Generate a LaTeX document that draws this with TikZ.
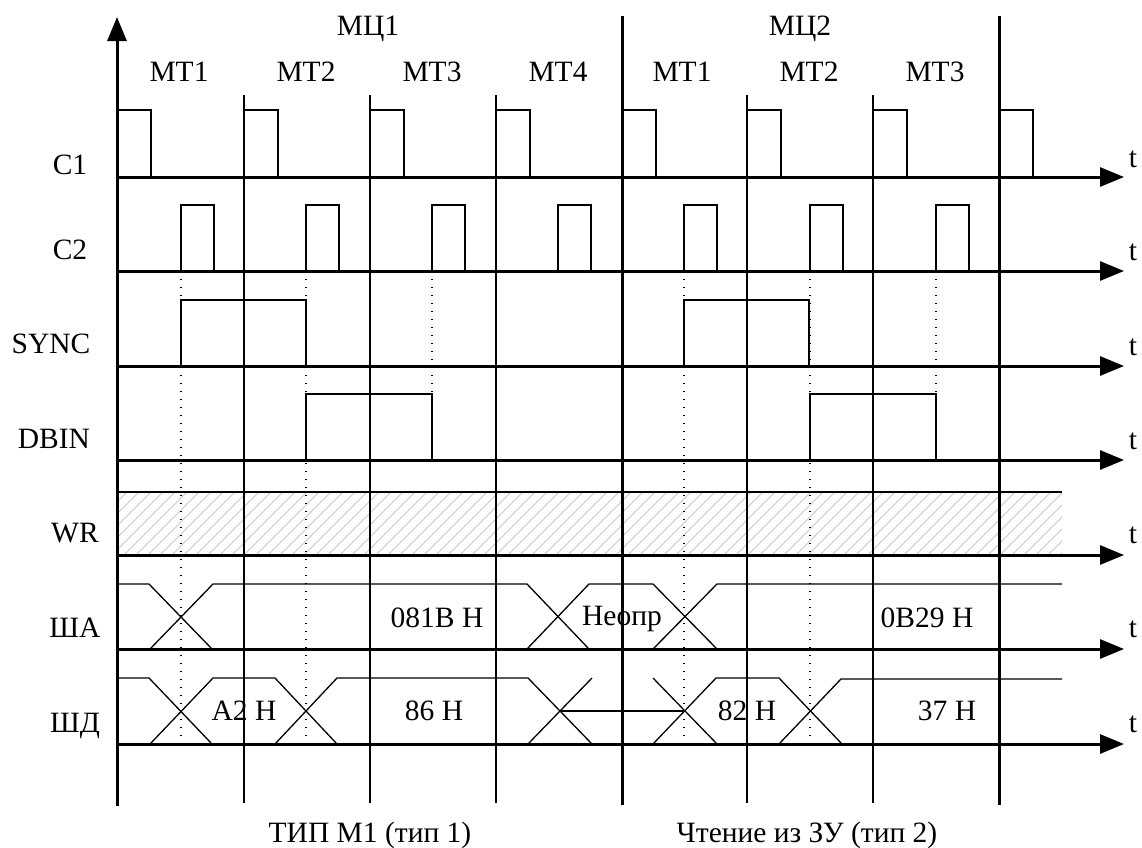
\documentclass[tikz,border=0pt]{standalone}
\usepackage{fontspec}
\setmainfont{Liberation Serif}
\usetikzlibrary{arrows.meta}
\begin{document}
\begin{tikzpicture}[x=1pt,y=-1pt,
  sig/.style={line width=1.3pt, line join=miter},
  axisline/.style={line width=3pt, -{Triangle[length=24pt,width=19pt]}},
  divthin/.style={line width=1.4pt},
  divthick/.style={line width=3pt},
  dotline/.style={line width=1.4pt, dash pattern=on 1.4pt off 6.6pt},
  hatchline/.style={line width=0.9pt, gray!45},
  lbl/.style={font=\fontsize{29.5}{32}\selectfont, inner sep=0pt, anchor=base}]
\useasboundingbox (0,0) rectangle (1142,847);

% WR hatch
\begin{scope}
  \clip (117,492) rectangle (1062,555);
  \foreach \x in {40,52,...,1070} \draw[hatchline] (\x,555) -- ++(63,-63);
\end{scope}
\draw[sig] (117,492) -- (1062,492);

% dividers
\foreach \x in {244,370,496,747,873} \draw[divthin] (\x,95) -- (\x,803);
\foreach \x in {622,999} \draw[divthick] (\x,16) -- (\x,805);

% dotted guides
\foreach \x in {181,306,684,810} \draw[dotline] (\x,271) -- (\x,744);
\foreach \x in {432,936} \draw[dotline] (\x,271) -- (\x,394);

% C1
\foreach \x in {117,244,370,496,622,747,873,999}
  \draw[sig] (\x,177) -- (\x,110) -- ++(34,0) -- ++(0,67);
% C2
\foreach \x in {181,306,432,558,684,810,936}
  \draw[sig] (\x,271) -- (\x,205) -- ++(33,0) -- ++(0,66);
% SYNC
\foreach \x in {181,684}
  \draw[sig] (\x,366) -- (\x,300) -- ++(125,0) -- ++(0,66);
% DBIN
\foreach \x in {306,810}
  \draw[sig] (\x,460) -- (\x,394) -- ++(126,0) -- ++(0,66);

% ША
\draw[sig] (117,584) -- (149,584) -- (212,649);
\draw[sig] (150,649) -- (213,584) -- (527,584) -- (589,649);
\draw[sig] (527,649) -- (589,584) -- (653,584) -- (717,649);
\draw[sig] (653,649) -- (717,584) -- (1062,584);

% ШД
\draw[sig] (117,678) -- (149,678) -- (212,744);
\draw[sig] (150,744) -- (213,678) -- (275,678) -- (337,744);
\draw[sig] (275,744) -- (337,678) -- (528,678) -- (592,744);
\draw[sig] (528,744) -- (592,678);
\draw[sig] (560,711) -- (685,711);
\draw[sig] (653,678) -- (717,744);
\draw[sig] (653,744) -- (716,678) -- (779,678) -- (842,744);
\draw[sig] (779,744) -- (841,679) -- (1062,679);

% axes
\foreach \y in {177,271,366,460,555,649,744}
  \draw[axisline] (116,\y) -- (1124,\y);
\draw[axisline] (117,806) -- (117,17);

% labels left
\node[lbl] (lc1) at (70,174) {C1};
\node[lbl] (lc2) at (70,259) {C2};
\node[lbl] (lsync) at (51,353) {SYNC};
\node[lbl] (ldbin) at (54,448) {DBIN};
\node[lbl] (lwr) at (75,542) {WR};
\node[lbl] (lsha) at (75,637) {ША};
\node[lbl] (lshd) at (75,732) {ШД};

% t labels
\node[lbl] (t1) at (1133,167) {t};
\node[lbl] (t2) at (1133,260) {t};
\node[lbl] (t3) at (1133,355) {t};
\node[lbl] (t4) at (1133,449) {t};
\node[lbl] (t5) at (1133,543) {t};
\node[lbl] (t6) at (1133,637) {t};
\node[lbl] (t7) at (1133,732) {t};

% top labels
\node[lbl] (mc1) at (368,35) {МЦ1};
\node[lbl] (mc2) at (800,35) {МЦ2};
\node[lbl] (a1) at (179,81) {МТ1};
\node[lbl] (a2) at (306,81) {МТ2};
\node[lbl] (a3) at (432,81) {МТ3};
\node[lbl] (a4) at (558,81) {МТ4};
\node[lbl] (b1) at (682,81) {МТ1};
\node[lbl] (b2) at (809,81) {МТ2};
\node[lbl] (b3) at (935,81) {МТ3};

% bus labels
\node[lbl] (sa1) at (437,627) {081B H};
\node[lbl] (sa2) at (622,625) {Неопр};
\node[lbl] (sa3) at (927,627) {0B29 H};
\node[lbl] (sd1) at (244,720) {A2 H};
\node[lbl] (sd2) at (434,720) {86 H};
\node[lbl] (sd3) at (747,720) {82 H};
\node[lbl] (sd4) at (947,720) {37 H};

% bottom labels
\node[lbl] (bot1) at (370,842) {ТИП М1 (тип 1)};
\node[lbl] (bot2) at (807,842) {Чтение из ЗУ (тип 2)};
\end{tikzpicture}
\end{document}
